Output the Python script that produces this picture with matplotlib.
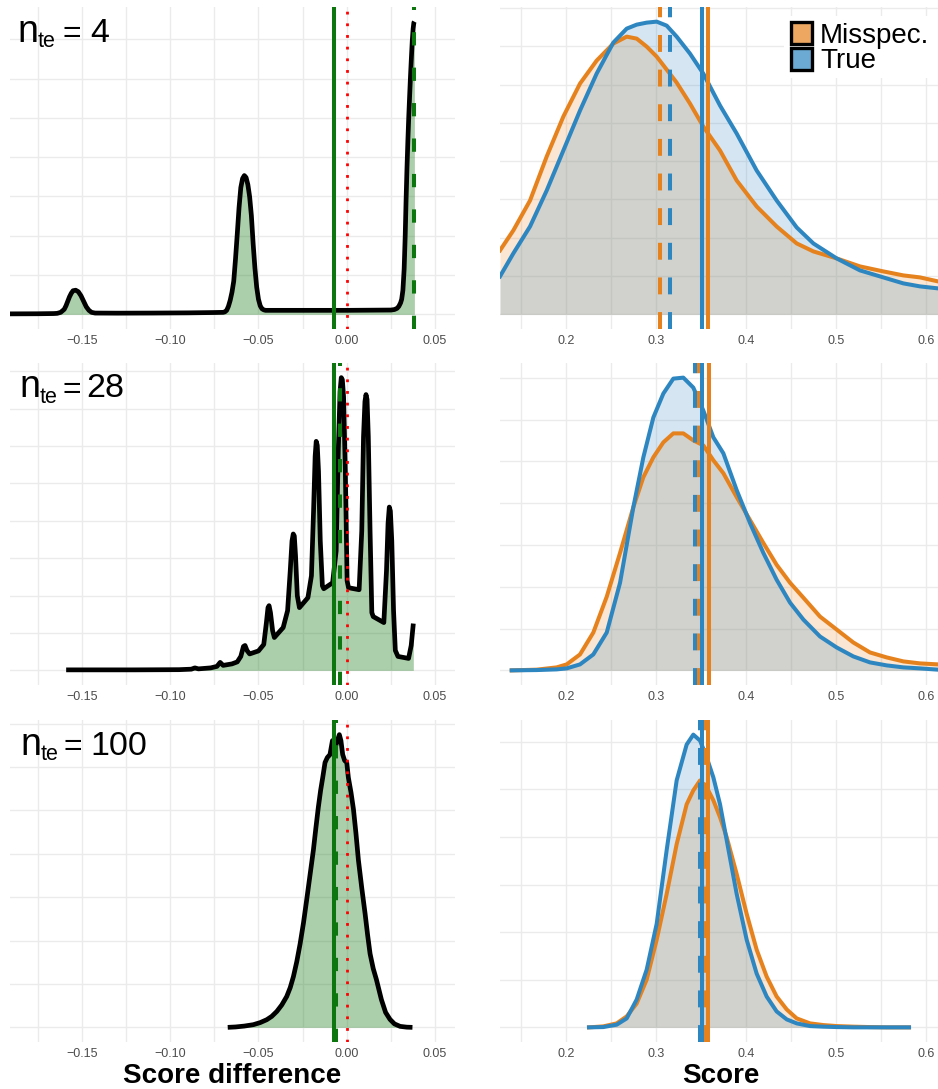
import numpy as np
import matplotlib
matplotlib.use("Agg")
import matplotlib.pyplot as plt
from matplotlib.patches import Rectangle

# ------------------------------------------------------------------
# DATA
# ------------------------------------------------------------------
n_te = [4, 28, 100]

# Left column: density of score difference
diff_x_4 = [-0.1907, -0.1750, -0.1660, -0.1640, -0.1620, -0.1600, -0.1590, -0.1580,
            -0.1570, -0.1560, -0.1550, -0.1535, -0.1520, -0.1505, -0.1490, -0.1475,
            -0.1460, -0.1445, -0.1425, -0.1300, -0.1100, -0.0900, -0.0760, -0.0700,
            -0.0690, -0.0680, -0.0670, -0.0660, -0.0650, -0.0640, -0.0630, -0.0620,
            -0.0610, -0.0600, -0.0590, -0.0580, -0.0570, -0.0560, -0.0550, -0.0540,
            -0.0530, -0.0520, -0.0510, -0.0500, -0.0490, -0.0480, -0.0470, -0.0460,
            -0.0300, 0.0000, 0.0250, 0.0270, 0.0285, 0.0295, 0.0305, 0.0311,
            0.0318, 0.0325, 0.0331, 0.0336, 0.0341, 0.0346, 0.0351, 0.0356,
            0.0361, 0.0366, 0.0371, 0.0376, 0.0380, 0.0383]
diff_y_4 = [0.5, 0.6, 0.8, 1.0, 2.0, 5.0, 8.5, 13,
            17.5, 21, 23.5, 24, 22.5, 18.5, 13, 7.5,
            4, 2, 1.3, 1.2, 1.3, 1.5, 1.8, 2.0,
            2.5, 4, 8, 14, 22, 33, 55, 80,
            106, 126, 135, 138, 136, 129, 117, 98,
            70, 46, 27, 15, 8.5, 5.5, 4.5, 4,
            4, 4, 4.3, 4.8, 6, 8, 11.5, 15,
            24, 45, 78, 114, 145, 172, 196, 217,
            237, 255, 272, 284, 290, 291]

diff_x_28 = [-0.1589, -0.1200, -0.0950, -0.0880, -0.0860, -0.0840, -0.0770, -0.0735,
             -0.0717, -0.0700, -0.0650, -0.0620, -0.0600, -0.0585, -0.0576, -0.0565,
             -0.0550, -0.0500, -0.0470, -0.0455, -0.0446, -0.0440, -0.0432, -0.0420,
             -0.0410, -0.0360, -0.0335, -0.0320, -0.0310, -0.0303, -0.0297, -0.0290,
             -0.0280, -0.0268, -0.0220, -0.0200, -0.0188, -0.0179, -0.0173, -0.0167,
             -0.0160, -0.0150, -0.0138, -0.0130, -0.0080, -0.0060, -0.0048, -0.0038,
             -0.0031, -0.0025, -0.0018, -0.0008, 0.0002, 0.0010, 0.0070, 0.0085,
             0.0095, 0.0103, 0.0109, 0.0115, 0.0122, 0.0132, 0.0142, 0.0150,
             0.0210, 0.0225, 0.0234, 0.0241, 0.0247, 0.0255, 0.0265, 0.0275,
             0.0290, 0.0350, 0.0365, 0.0377]
diff_y_28 = [0.5, 0.5, 0.7, 1.2, 2.5, 1.5, 2.5, 4,
             8, 5, 6.5, 8.5, 14, 24, 25, 20,
             16.5, 19.5, 26, 48, 63, 65, 58, 40,
             33, 43, 60, 100, 130, 137, 135, 115,
             75, 63, 73, 95, 160, 215, 230, 226,
             200, 130, 85, 82, 88, 120, 220, 280,
             294, 292, 275, 200, 90, 83, 81, 140,
             235, 270, 277, 272, 235, 140, 58, 54,
             48, 100, 148, 164, 160, 130, 60, 20,
             14, 12, 25, 47]

diff_x_100 = [-0.0674, -0.0630, -0.0580, -0.0529, -0.0490, -0.0453, -0.0425, -0.0396,
              -0.0368, -0.0340, -0.0320, -0.0302, -0.0283, -0.0264, -0.0245, -0.0227,
              -0.0208, -0.0189, -0.0175, -0.0161, -0.0148, -0.0136, -0.0123, -0.0110,
              -0.0095, -0.0088, -0.0081, -0.0074, -0.0066, -0.0055, -0.0042, -0.0033,
              -0.0023, -0.0012, 0.0000, 0.0009, 0.0024, 0.0038, 0.0052, 0.0066,
              0.0085, 0.0104, 0.0118, 0.0132, 0.0150, 0.0168, 0.0182, 0.0196,
              0.0220, 0.0245, 0.0270, 0.0302, 0.0340, 0.0372]
diff_y_100 = [0, 0.4, 1.3, 2.7, 4.8, 7.7, 11, 16,
              22.5, 31, 40, 51, 66, 84, 105, 128,
              153, 178, 200, 221, 238, 251, 266, 271,
              274, 281, 288, 287, 281, 287, 294, 288,
              274, 268, 266, 251, 236, 219, 195, 168,
              140, 114, 93, 74, 59, 48, 38, 28,
              15, 8, 3.5, 1, 0.2, 0]

diff_mean = [-0.0070, -0.0070, -0.0070]
diff_median = [0.0383, -0.0038, -0.0060]

# Right column: density of score (True vs Misspec.)
score_x_4 = [0.1263, 0.1411, 0.1597, 0.1782, 0.1967, 0.2152, 0.2337, 0.2522,
             0.2671, 0.2782, 0.2893, 0.3004, 0.3115, 0.3226, 0.3374, 0.3522,
             0.3708, 0.3893, 0.4115, 0.4337, 0.4560, 0.4745, 0.5004, 0.5263,
             0.5522, 0.5745, 0.5930, 0.6130]
true_y_4 = [38, 61, 88, 124, 164, 204, 241, 272,
            286, 290, 292, 293, 289, 278, 261, 241,
            209, 181, 144, 114, 87, 71, 56, 44,
            37, 31, 28, 26]
mis_y_4 = [64, 84, 114, 158, 198, 231, 254, 271,
           278, 276, 268, 258, 245, 232, 211, 188,
           164, 134, 108, 88, 71, 63, 56, 48,
           43, 39, 37, 33]

score_x_28 = [0.1393, 0.1671, 0.1893, 0.2004, 0.2152, 0.2300, 0.2449, 0.2597,
              0.2745, 0.2856, 0.2967, 0.3078, 0.3189, 0.3300, 0.3411, 0.3522,
              0.3634, 0.3745, 0.3893, 0.4041, 0.4189, 0.4337, 0.4486, 0.4634,
              0.4819, 0.5004, 0.5189, 0.5374, 0.5560, 0.5745, 0.5930, 0.6130]
true_y_28 = [0, 0.3, 1, 2, 6, 16, 38, 88,
             164, 214, 254, 278, 293, 294, 284, 261,
             234, 218, 181, 148, 118, 91, 68, 51,
             34, 23, 14, 8, 5, 3, 2, 0.7]
mis_y_28 = [0, 0.7, 3, 6, 16, 38, 74, 118,
            164, 194, 214, 229, 238, 238, 231, 226,
            211, 198, 174, 151, 128, 106, 88, 73,
            54, 41, 28, 18, 13, 9, 7, 6]

score_x_100 = [0.2252, 0.2411, 0.2560, 0.2671, 0.2782, 0.2893, 0.3004, 0.3115,
               0.3226, 0.3337, 0.3411, 0.3486, 0.3560, 0.3634, 0.3708, 0.3782,
               0.3893, 0.4004, 0.4115, 0.4226, 0.4337, 0.4449, 0.4560, 0.4708,
               0.4856, 0.5004, 0.5189, 0.5374, 0.5560, 0.5808]
true_y_100 = [0, 0.3, 2.7, 9, 28, 58, 104, 178,
              248, 284, 294, 288, 271, 251, 224, 188,
              134, 88, 54, 31, 16, 8, 4, 1.3,
              0.7, 0.3, 0, 0, 0, 0]
mis_y_100 = [0, 1, 4, 11, 24, 48, 88, 134,
             184, 224, 238, 248, 241, 228, 211, 191,
             154, 114, 78, 51, 31, 18, 9, 4,
             2.3, 1.3, 0.7, 0.3, 0, 0]

true_mean = [0.3504, 0.3511, 0.3511]
mis_mean = [0.3578, 0.3582, 0.3574]
true_median = [0.3152, 0.3430, 0.3486]
mis_median = [0.3041, 0.3478, 0.3545]

diff_ticks = [-0.15, -0.10, -0.05, 0.00, 0.05]
diff_tick_labels = ["\u22120.15", "\u22120.10", "\u22120.05", "0.00", "0.05"]
score_ticks = [0.2, 0.3, 0.4, 0.5, 0.6]
score_tick_labels = ["0.2", "0.3", "0.4", "0.5", "0.6"]
legend_labels = ["Misspec.", "True"]

# ------------------------------------------------------------------
# STYLE / LAYOUT
# ------------------------------------------------------------------
W, H = 938, 1089
DPI = 100
FONT = "Liberation Sans"
plt.rcParams["font.family"] = [FONT, "DejaVu Sans"]

GREEN = "#0E760E"
ORANGE = "#E6821E"
BLUE = "#2E86C1"
GRID = "#EBEBEB"
TICKC = "#4D4D4D"

fig = plt.figure(figsize=(W / DPI, H / DPI), dpi=DPI)
fig.patch.set_facecolor("white")

row_tops = [7, 363, 720]
PH = 322
LX0, LW = 10, 445
RX0, RW = 500, 438
# grid spacing in pixels for each panel (left, right)
grid_px = [(39.3, 38.3), (37.4, 41.8), (43.4, 47.6)]


def add_ax(x0, top, w, h):
    return fig.add_axes([x0 / W, 1 - (top + h) / H, w / W, h / H])


def ftext(xp, yp, s, **kw):
    fig.text(xp / W, 1 - yp / H, s, **kw)


def style_axis(ax, xlim, M, gpx, ticks, labels, minor):
    ax.set_xlim(*xlim)
    ax.set_ylim(-0.05 * M, 1.05 * M)
    step = gpx * 1.1 * M / PH
    ax.set_yticks(np.arange(0, 1.05 * M + 1e-9, step))
    ax.set_xticks(ticks)
    ax.set_xticklabels(labels)
    ax.set_xticks(minor, minor=True)
    ax.tick_params(axis="both", which="both", length=0)
    ax.tick_params(axis="y", labelleft=False)
    ax.tick_params(axis="x", labelsize=9, labelcolor=TICKC, pad=4)
    for lab in ax.get_xticklabels():
        lab.set_family(FONT)
    ax.grid(True, which="both", color=GRID, lw=1.0)
    ax.set_axisbelow(True)
    for s in ax.spines.values():
        s.set_visible(False)


diff_xs = [diff_x_4, diff_x_28, diff_x_100]
diff_ys = [diff_y_4, diff_y_28, diff_y_100]
score_xs = [score_x_4, score_x_28, score_x_100]
true_ys = [true_y_4, true_y_28, true_y_100]
mis_ys = [mis_y_4, mis_y_28, mis_y_100]

for r in range(3):
    top = row_tops[r]
    # ---------------- left panel ----------------
    ax = add_ax(LX0, top, LW, PH)
    x = np.array(diff_xs[r]); y = np.array(diff_ys[r])
    M = y.max()
    style_axis(ax, (-0.1907, 0.0613), M, grid_px[r][0], diff_ticks, diff_tick_labels,
               [-0.175, -0.125, -0.075, -0.025, 0.025])
    ax.fill_between(x, 0, y, color=GREEN, alpha=0.35, lw=0)
    ax.plot(x, y, color="black", lw=3.4, solid_joinstyle="round", solid_capstyle="butt")
    ax.axvline(diff_mean[r], color=GREEN, lw=2.9)
    ax.axvline(diff_median[r], color=GREEN, lw=2.9, linestyle=(0, (3.3, 5.5)))
    ax.axvline(0.0, color="red", lw=2.0, linestyle=(0, (1, 3.2)))

    # ---------------- right panel ----------------
    ax2 = add_ax(RX0, top, RW, PH)
    xs = np.array(score_xs[r]); yt = np.array(true_ys[r]); ym = np.array(mis_ys[r])
    M2 = max(yt.max(), ym.max())
    style_axis(ax2, (0.1263, 0.613), M2, grid_px[r][1], score_ticks, score_tick_labels,
               [0.15, 0.25, 0.35, 0.45, 0.55])
    ax2.fill_between(xs, 0, ym, color=ORANGE, alpha=0.2, lw=0)
    ax2.plot(xs, ym, color=ORANGE, lw=2.9, solid_joinstyle="round")
    ax2.fill_between(xs, 0, yt, color=BLUE, alpha=0.2, lw=0)
    ax2.plot(xs, yt, color=BLUE, lw=2.9, solid_joinstyle="round")
    ax2.axvline(mis_median[r], color=ORANGE, lw=2.9, linestyle=(0, (4.2, 4.4)))
    ax2.axvline(true_median[r], color=BLUE, lw=2.9, linestyle=(0, (4.2, 4.4)))
    ax2.axvline(true_mean[r], color=BLUE, lw=2.9)
    ax2.axvline(mis_mean[r], color=ORANGE, lw=2.9)

# ---------------- n_te annotations ----------------
label_pos = [  # n_x, baseline, te_x, te_baseline, eq_x, num_x
    (17.5, 41.7, 38.0, 47.0, 62.5, 90.0),
    (19.5, 397.3, 40.0, 402.7, 62.5, 86.5),
    (20.5, 755.0, 41.0, 760.3, 63.5, 90.0),
]
for r in range(3):
    nx, nb, tx, tb, ex, numx = label_pos[r]
    ftext(nx, nb, "n", fontsize=27, va="baseline", ha="left", family=FONT)
    ftext(tx, tb, "te", fontsize=15.5, va="baseline", ha="left", family=FONT)
    ftext(ex, nb + 0.5, "=", fontsize=23, va="baseline", ha="left", family=FONT)
    ftext(numx, nb, str(n_te[r]), fontsize=24.5, va="baseline", ha="left", family=FONT)

# ---------------- legend ----------------
fig.add_artist(Rectangle((784 / W, 1 - 78 / H), 154 / W, 62 / H, transform=fig.transFigure,
                         facecolor="white", edgecolor="none", zorder=5))
key_cols = [ORANGE, BLUE]
key_tops = [22.4, 48.2]
for i in range(2):
    fig.add_artist(Rectangle((791 / W, 1 - (key_tops[i] + 22) / H), 20.5 / W, 22 / H,
                             transform=fig.transFigure, facecolor=key_cols[i], alpha=0.7,
                             edgecolor="none", zorder=6))
    fig.add_artist(Rectangle((791 / W, 1 - (key_tops[i] + 22) / H), 20.5 / W, 22 / H,
                             transform=fig.transFigure, facecolor="none",
                             edgecolor="black", lw=2.4, zorder=7))
ftext(819.5, 43.3, legend_labels[0], fontsize=20, va="baseline", ha="left", family=FONT, zorder=8)
ftext(820.5, 68.3, legend_labels[1], fontsize=20, va="baseline", ha="left", family=FONT, zorder=8)

# ---------------- axis titles ----------------
ftext(232.5, 1083, "Score difference", fontsize=20, fontweight="bold", ha="center",
      va="baseline", family=FONT)
ftext(721, 1083, "Score", fontsize=20, fontweight="bold", ha="center",
      va="baseline", family=FONT)

fig.savefig("out.png", dpi=DPI, facecolor="white")
